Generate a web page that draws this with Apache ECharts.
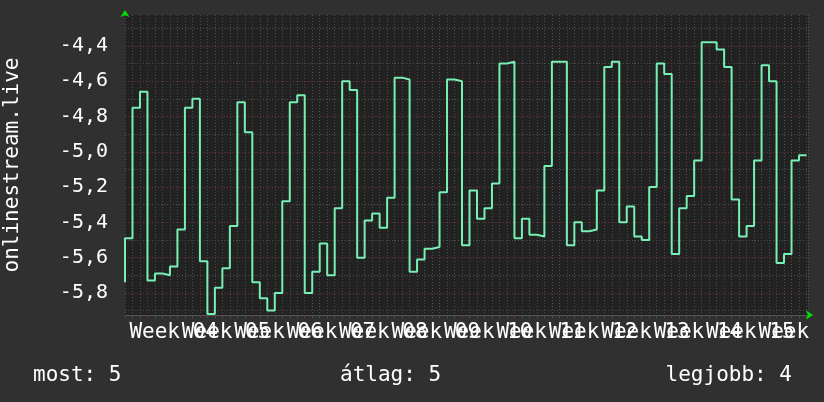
<!DOCTYPE html>
<html>
<head>
<meta charset="utf-8">
<script src="https://cdn.jsdelivr.net/npm/echarts@6/dist/echarts.min.js"></script>
<style>
html,body{margin:0;padding:0;background:#303030;}
#c{width:824px;height:402px;}
</style>
</head>
<body>
<div id="c"></div>
<script>
// ---- data (daily values, day index from the left edge of the plot) ----
const startValue = -5.74;
const dailyValues = [
  -5.49, -4.75, -4.66, -5.73, -5.69, -5.70, -5.65, -5.44, -4.75, -4.70,
  -5.62, -5.92, -5.77, -5.66, -5.42, -4.72, -4.89, -5.74, -5.83, -5.90,
  -5.80, -5.28, -4.72, -4.68, -5.80, -5.68, -5.52, -5.70, -5.32, -4.60,
  -4.65, -5.60, -5.39, -5.35, -5.43, -5.26, -4.58, -4.59, -5.68, -5.61,
  -5.55, -5.54, -5.23, -4.59, -4.60, -5.53, -5.22, -5.38, -5.32, -5.18,
  -4.50, -4.49, -5.49, -5.38, -5.47, -5.48, -5.08, -4.49, -4.49, -5.53,
  -5.40, -5.45, -5.44, -5.22, -4.52, -4.49, -5.40, -5.31, -5.48, -5.50,
  -5.20, -4.50, -4.56, -5.58, -5.32, -5.25, -5.05, -4.38, -4.38, -4.42,
  -4.52, -5.27, -5.48, -5.42, -5.05, -4.51, -4.60, -5.63, -5.58, -5.05,
  -5.02
];
const weekBoundaries = [3, 10, 17, 24, 31, 38, 45, 52, 59, 66, 73, 80, 87];
const weekCenters = [6.5, 13.5, 20.5, 27.5, 34.5, 41.5, 48.5, 55.5, 62.5, 69.5, 76.5, 83.5, 90.5];
const weekLabels = ['Week 04','Week 05','Week 06','Week 07','Week 08','Week 09','Week 10','Week 11','Week 12','Week 13','Week 14','Week 15','Week 16'];
const yTickValues = [-5.8, -5.6, -5.4, -5.2, -5.0, -4.8, -4.6, -4.4];
const yTickLabels = ['-5,8', '-5,6', '-5,4', '-5,2', '-5,0', '-4,8', '-4,6', '-4,4'];
const yMinorValues = [-5.9, -5.7, -5.5, -5.3, -5.1, -4.9, -4.7, -4.5, -4.3];
const X_MIN = 0, X_MAX = 91.2;
const Y_MIN = -5.925, Y_MAX = -4.225;
const legendTexts = ['most: 5', 'átlag: 5', 'legjobb: 4'];
const axisName = 'onlinestream.live';

// ---- build series points ----
const points = [[0, startValue]];
dailyValues.forEach((v, i) => points.push([i, v]));
points.push([dailyValues.length, dailyValues[dailyValues.length - 1]]);

// week labels split over two overlapping axes (even / odd weeks) so none is auto-hidden
const evenCenters = weekCenters.filter((_, i) => i % 2 === 0);
const oddCenters = weekCenters.filter((_, i) => i % 2 === 1);

const MONO = '"DejaVu Sans Mono", monospace';
const GREY = '#4e4e4e';
const RED = '#6a3434';
const GREEN = '#00dd00';

function weekLabelAxis(values, withArrow) {
  return {
    type: 'value', position: 'bottom', min: X_MIN, max: X_MAX,
    axisLine: withArrow
      ? {show: true, onZero: false, symbol: ['none', 'arrow'], symbolSize: [7, 7], symbolOffset: [0, 5],
         lineStyle: {color: GREEN, width: 0}}
      : {show: false, onZero: false},
    axisTick: {show: false, customValues: values},
    axisLabel: {
      show: true, customValues: values, margin: 7, color: '#ffffff',
      fontFamily: MONO, fontSize: 21, hideOverlap: false,
      showMinLabel: true, showMaxLabel: true,
      formatter: (v) => weekLabels[weekCenters.findIndex(t => Math.abs(t - v) < 1e-6)] || ''
    },
    splitLine: {show: false}
  };
}

const chart = echarts.init(document.getElementById('c'), null, {renderer: 'canvas'});
chart.setOption({
  backgroundColor: '#303030',
  animation: false,
  grid: {left: 125, top: 15, width: 683, height: 300, show: true, backgroundColor: '#222222', borderWidth: 0,
         containLabel: false, outerBoundsMode: 'none'},
  xAxis: [
    {
      type: 'value', position: 'bottom', min: X_MIN, max: X_MAX, interval: 1,
      axisLine: {show: true, onZero: false, lineStyle: {color: '#555555', width: 1}},
      axisTick: {show: true, length: 3, lineStyle: {color: GREY}},
      axisLabel: {show: false},
      splitLine: {show: true, lineStyle: {color: GREY, width: 1, type: [1, 2]}}
    },
    {
      type: 'value', position: 'bottom', min: X_MIN, max: X_MAX,
      axisLine: {show: false, onZero: false},
      axisTick: {show: true, length: 3, customValues: weekBoundaries, lineStyle: {color: RED}},
      axisLabel: {show: false, customValues: weekBoundaries},
      splitLine: {show: true, lineStyle: {color: RED, width: 1, type: [1, 2]}}
    },
    weekLabelAxis(evenCenters, true),
    weekLabelAxis(oddCenters, false)
  ],
  yAxis: [
    {
      type: 'value', position: 'left', min: Y_MIN, max: Y_MAX,
      axisLine: {show: false, onZero: false},
      axisTick: {show: false, customValues: yMinorValues},
      axisLabel: {show: false, customValues: yMinorValues},
      splitLine: {show: true, lineStyle: {color: GREY, width: 1, type: [1, 2]}}
    },
    {
      type: 'value', position: 'left', min: Y_MIN, max: Y_MAX,
      axisLine: {show: false, onZero: false},
      axisTick: {show: false, customValues: yTickValues},
      axisLabel: {
        show: true, customValues: yTickValues, margin: 17, color: '#ffffff',
        fontFamily: MONO, fontSize: 20, showMinLabel: true, showMaxLabel: true,
        formatter: (v) => yTickLabels[yTickValues.findIndex(t => Math.abs(t - v) < 1e-6)] || ''
      },
      splitLine: {show: true, lineStyle: {color: RED, width: 1, type: [1, 2]}},
      name: axisName, nameLocation: 'middle', nameRotate: 90, nameGap: 102,
      nameTextStyle: {color: '#ffffff', fontFamily: MONO, fontSize: 21}
    },
    {
      type: 'value', position: 'left', min: Y_MIN, max: Y_MAX,
      axisLine: {show: true, onZero: false, symbol: ['none', 'arrow'], symbolSize: [7, 7], symbolOffset: [0, 5],
                 lineStyle: {color: GREEN, width: 0}},
      axisTick: {show: false},
      axisLabel: {show: false},
      splitLine: {show: false}
    }
  ],
  series: [{
    type: 'line',
    xAxisIndex: 0, yAxisIndex: 0,
    step: 'end',
    data: points,
    showSymbol: false,
    clip: true,
    lineStyle: {color: '#78f0b4', width: 2},
    z: 5
  }],
  graphic: [
    {type: 'text', left: 33, top: 365, style: {text: legendTexts[0], fill: '#ffffff', font: '21px ' + MONO}},
    {type: 'text', left: 340, top: 365, style: {text: legendTexts[1], fill: '#ffffff', font: '21px ' + MONO}},
    {type: 'text', right: 32, top: 365, style: {text: legendTexts[2], fill: '#ffffff', font: '21px ' + MONO}}
  ]
});
</script>
</body>
</html>
